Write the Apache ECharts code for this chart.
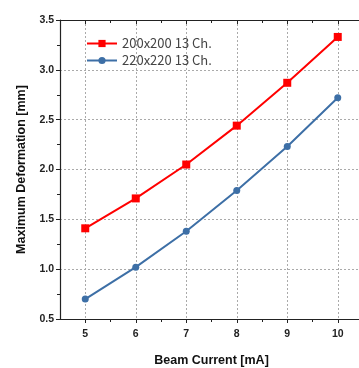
<!DOCTYPE html>
<html><head><meta charset="utf-8">
<script src="https://cdn.jsdelivr.net/npm/echarts@6/dist/echarts.min.js"></script>
<style>html,body{margin:0;padding:0;background:#fff}#c{width:359px;height:368px}</style>
</head><body><div id="c"></div>
<script>
const currents = [5, 6, 7, 8, 9, 10];
const def200 = [1.41, 1.71, 2.05, 2.44, 2.87, 3.33];
const def220 = [0.70, 1.02, 1.38, 1.79, 2.23, 2.72];
const seriesNames = ['200x200 13 Ch.', '220x220 13 Ch.'];
const xMajor = [5, 6, 7, 8, 9, 10];
const xMinor = [5.5, 6.5, 7.5, 8.5, 9.5, 10.5];
const xTitle = 'Beam Current [mA]';
const yTitle = 'Maximum Deformation [mm]';

const chart = echarts.init(document.getElementById('c'));
const labelFont = {fontFamily:'Liberation Sans, Arial', fontWeight:'bold', fontSize:10.5, color:'#222'};
const grid = {left:60, top:20, width:303, height:299, containLabel:false, outerBoundsMode:'none'};
const xCommon = {type:'value', min:4.5, max:10.5, gridIndex:0};
chart.setOption({
  animation:false,
  grid: grid,
  legend:{
    left:81, top:32, orient:'vertical', itemGap:4, itemWidth:30, itemHeight:9,
    textStyle:{fontFamily:'Noto Sans CJK KR, Open Sans', fontSize:13, color:'#444'},
    data:seriesNames
  },
  xAxis:[
    Object.assign({}, xCommon, {
      position:'bottom',
      name:xTitle, nameLocation:'middle', nameGap:35,
      nameTextStyle:{fontFamily:'Liberation Sans, Arial', fontWeight:'bold', fontSize:12.5, color:'#111'},
      axisLine:{show:true, onZero:false, lineStyle:{color:'#222', width:1.2}},
      axisTick:{show:true, inside:false, length:4, customValues:xMajor, lineStyle:{color:'#222'}},
      axisLabel:Object.assign({margin:10, customValues:xMajor}, labelFont),
      splitLine:{show:true, lineStyle:{color:'#aaa', type:[2,2], width:1}}
    }),
    Object.assign({}, xCommon, {
      position:'bottom',
      axisLine:{show:false},
      axisTick:{show:true, inside:false, length:3, customValues:xMinor, lineStyle:{color:'#222'}},
      axisLabel:{show:false},
      splitLine:{show:false}
    }),
    Object.assign({}, xCommon, {
      position:'top',
      axisLine:{show:true, onZero:false, lineStyle:{color:'#222', width:1.2}},
      axisTick:{show:true, inside:true, length:4, customValues:xMajor, lineStyle:{color:'#222'}},
      axisLabel:{show:false},
      splitLine:{show:false}
    }),
    Object.assign({}, xCommon, {
      position:'top',
      axisLine:{show:false},
      axisTick:{show:true, inside:true, length:3, customValues:xMinor, lineStyle:{color:'#222'}},
      axisLabel:{show:false},
      splitLine:{show:false}
    })
  ],
  yAxis:{
    type:'value', min:0.5, max:3.5, interval:0.5,
    name:yTitle, nameLocation:'middle', nameGap:31,
    nameTextStyle:{fontFamily:'Liberation Sans, Arial', fontWeight:'bold', fontSize:12.5, color:'#111'},
    axisLine:{show:true, onZero:false, lineStyle:{color:'#222', width:1.2}},
    axisTick:{show:true, inside:false, length:4, lineStyle:{color:'#222'}},
    minorTick:{show:true, splitNumber:2, length:3, lineStyle:{color:'#222'}},
    axisLabel:Object.assign({margin:6, formatter:v=>v.toFixed(1)}, labelFont),
    splitLine:{show:true, lineStyle:{color:'#aaa', type:[2,2], width:1}}
  },
  series:[
    {name:seriesNames[0], type:'line', xAxisIndex:0, data:currents.map((c,i)=>[c, def200[i]]),
     symbol:'rect', symbolSize:8, color:'#ff0000', lineStyle:{width:2}, itemStyle:{color:'#ff0000'}},
    {name:seriesNames[1], type:'line', xAxisIndex:0, data:currents.map((c,i)=>[c, def220[i]]),
     symbol:'circle', symbolSize:7, color:'#3d6fa6', lineStyle:{width:2}, itemStyle:{color:'#3d6fa6'}}
  ]
});
</script></body></html>
